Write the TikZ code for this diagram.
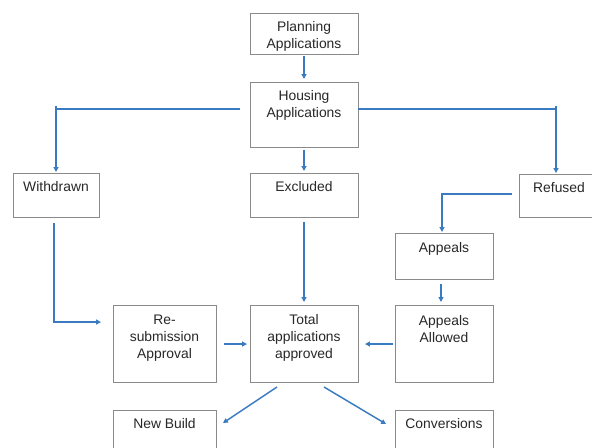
\documentclass[tikz,border=0pt]{standalone}
\usepackage{fontspec}
\setmainfont{Liberation Sans}
\usetikzlibrary{arrows.meta}
\definecolor{boxgray}{RGB}{138,138,138}
\definecolor{flowblue}{RGB}{58,122,192}
\definecolor{txt}{RGB}{40,40,40}

% box: name, x1, y1, x2, y2 (pixel grid), offset of first text line, text
\newcommand\flowbox[7]{%
  \pgfmathsetmacro\bw{(#4-#2)*0.75}%
  \pgfmathsetmacro\bh{(#5-#3)*0.75}%
  \pgfmathsetmacro\ts{-(#6-5)*0.75}%
  \node[box, minimum width=\bw pt, minimum height=\bh pt] (#1) at ({(#2+#4)/2},{(#3+#5)/2}) {};
  \node[lbl] (#1-text) at ([yshift=\ts pt]#1.north) {#7};
}

\begin{document}
\begin{tikzpicture}[x=0.75pt, y=-0.75pt,
  box/.style={draw=boxgray, line width=0.7pt, inner sep=0pt, outer sep=0pt, fill=white},
  lbl/.style={anchor=north, align=center, inner sep=0pt, text=txt,
    font=\fontsize{10.4pt}{12.75pt}\selectfont},
  link/.style={draw=flowblue, line width=1.1pt},
  arr/.style={link, -{Triangle[length=3.6pt, width=3.6pt]}}]
\useasboundingbox (0,0) rectangle (592,448);

\flowbox{plan}{250}{13}{358}{54}{13}{Planning\\Applications}
\flowbox{hous}{250}{82}{358}{147}{13}{Housing\\Applications}
\flowbox{wd}{13}{173}{99}{217}{13}{Withdrawn}
\flowbox{exc}{250}{173}{358}{217}{13}{Excluded}
\flowbox{ref}{519}{174}{599}{217}{13}{Refused}
\flowbox{app}{395}{233}{493}{279}{14}{Appeals}
\flowbox{resub}{113}{305}{216}{382}{15}{Re-\\submission\\Approval}
\flowbox{tot}{250}{305}{358}{382}{14}{Total\\applications\\approved}
\flowbox{allw}{395}{305}{493}{382}{15}{Appeals\\Allowed}
\flowbox{nb}{113}{410}{216}{470}{13}{New Build}
\flowbox{conv}{395}{410}{493}{470}{13}{Conversions}

% main column
\draw[arr, shorten <=1.5pt, shorten >=2.25pt] (plan) -- (hous);
\draw[arr, shorten <=2.25pt, shorten >=1.5pt] (hous) -- (exc);
\draw[arr, shorten <=3.75pt, shorten >=2.25pt] (exc) -- (tot);

% split to withdrawn and refused
\coordinate (hw) at ([yshift=4.1pt]hous.west);
\coordinate (he) at ([yshift=4.1pt]hous.east);
\draw[arr, shorten <=7.5pt, shorten >=0.75pt] (hw) -| (wd.north);
\draw[arr, shorten >=0.75pt] (he) -| ([xshift=-2.25pt]ref.north);
\draw[link] (wd.north |- hw) -- ++(0,-3.5);
\draw[link] ([xshift=-2.25pt]ref.north |- he) -- ++(0,-3.5);

% withdrawn to re-submission
\draw[arr, shorten <=4.5pt, shorten >=9pt] ([xshift=-1.5pt]wd.south) |- ([yshift=16.1pt]resub.west);

% refused to appeals
\draw[arr, shorten <=5.25pt, shorten >=0.75pt] ([yshift=1.1pt]ref.west) -| ([xshift=-1.5pt]app.north);
\draw[arr, shorten <=3.75pt, shorten >=2.25pt] ([xshift=-2.25pt]app.south) -- ([xshift=-2.25pt]allw.north);

% into the total
\draw[arr, shorten <=6pt, shorten >=2.25pt] ([yshift=-0.4pt]resub.east) -- ([yshift=-0.4pt]tot.west);
\draw[arr, shorten <=1.5pt, shorten >=5.25pt] ([yshift=-0.4pt]allw.west) -- ([yshift=-0.4pt]tot.east);

% split of the total
\draw[arr] ([xshift=-20.25pt, yshift=-3.75pt]tot.south) -- ([xshift=5.25pt, yshift=-9.75pt]nb.north east);
\draw[arr] ([xshift=15pt, yshift=-3.75pt]tot.south) -- ([xshift=-6.75pt, yshift=-10.5pt]conv.north west);
\end{tikzpicture}
\end{document}
